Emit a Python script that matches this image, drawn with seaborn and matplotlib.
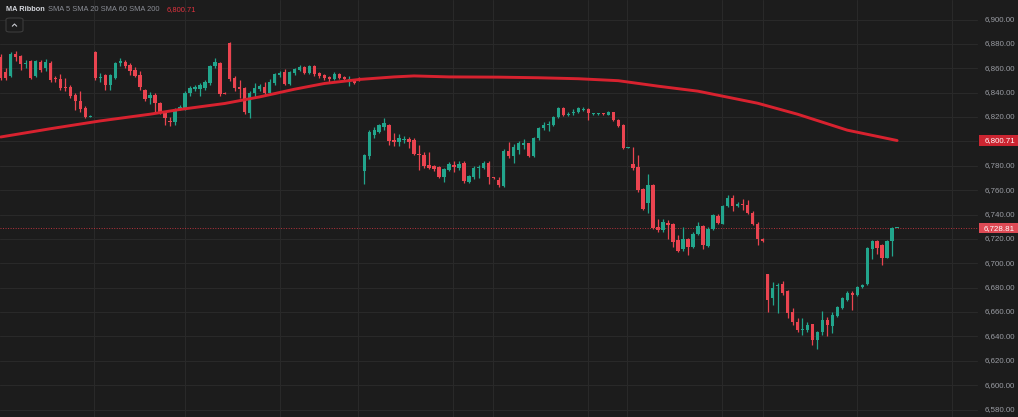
import numpy as np
import pandas as pd
import matplotlib
matplotlib.use("Agg")
import matplotlib.pyplot as plt
import matplotlib.transforms as mtrans
from matplotlib.patches import Rectangle, FancyBboxPatch
from matplotlib.lines import Line2D
import seaborn as sns

# ---------------- data ----------------
opens = [6869.3, 6857.0, 6853.7, 6872.0, 6870.1, 6863.1, 6865.8, 6853.7, 6865.2, 6859.8,
         6864.7, 6851.5, 6850.8, 6844.7, 6844.7, 6837.9, 6833.2, 6827.5, 6820.4, 6873.4,
         6851.6, 6854.3, 6846.1, 6852.1, 6863.9, 6865.2, 6862.5, 6858.4, 6854.3, 6842.0,
         6835.2, 6837.9, 6831.1, 6823.7, 6817.0, 6815.5, 6826.4, 6826.4, 6839.3, 6842.8,
         6842.8, 6843.4, 6847.5, 6861.9, 6864.4, 6839.6, 6880.8, 6851.6, 6844.7, 6843.4,
         6823.4, 6839.3, 6842.6, 6844.7, 6839.3, 6847.5, 6854.3, 6857.0, 6846.9, 6855.7,
         6858.4, 6861.1, 6856.2, 6861.7, 6856.2, 6854.3, 6852.9, 6850.8, 6854.9, 6852.9,
         6850.2, 6850.8, 6852.1, 6775.5, 6788.1, 6805.1, 6807.8, 6811.9, 6813.3, 6801.0,
         6799.1, 6800.8, 6801.8, 6801.0, 6790.0, 6789.0, 6780.4, 6779.6, 6779.1, 6770.9,
         6776.3, 6780.4, 6778.5, 6782.3, 6766.8, 6770.4, 6777.8, 6778.5, 6782.3, 6770.3,
         6768.7, 6763.2, 6792.2, 6787.8, 6792.8, 6797.4, 6798.3, 6788.0, 6802.4, 6810.6,
         6813.2, 6813.3, 6820.1, 6827.0, 6821.8, 6823.6, 6823.7, 6825.8, 6826.4, 6822.2,
         6822.2, 6822.9, 6822.0, 6823.7, 6817.4, 6813.8, 6794.5, 6781.8, 6779.0, 6760.8,
         6749.8, 6764.0, 6729.8, 6727.1, 6733.4, 6731.8, 6718.9, 6711.5, 6720.3, 6713.4,
         6724.4, 6730.6, 6714.2, 6728.5, 6738.6, 6732.6, 6747.1, 6753.6, 6747.1, 6749.0,
         6748.2, 6741.6, 6732.6, 6719.8, 6690.8, 6671.1, 6681.1, 6682.8, 6677.0, 6659.6,
         6651.4, 6645.3, 6645.1, 6649.8, 6636.9, 6643.2, 6653.3, 6648.6, 6656.8, 6663.4,
         6669.7, 6676.0, 6673.8, 6680.6, 6682.6, 6712.0, 6718.1, 6714.8, 6704.4, 6718.1,
         6728.81]
highs = [6871.5, 6860.0, 6873.0, 6874.0, 6871.0, 6867.0, 6867.0, 6867.0, 6866.5, 6867.5,
         6866.0, 6853.5, 6855.0, 6852.0, 6846.0, 6839.5, 6841.0, 6829.0, 6821.5, 6874.0,
         6856.5, 6855.5, 6855.5, 6865.0, 6868.5, 6867.0, 6864.0, 6861.0, 6857.5, 6843.0,
         6840.5, 6839.5, 6832.5, 6825.0, 6820.0, 6827.5, 6829.5, 6841.0, 6845.5, 6846.0,
         6847.5, 6850.0, 6863.0, 6868.5, 6865.5, 6840.5, 6881.5, 6853.5, 6850.5, 6845.0,
         6841.0, 6847.5, 6847.0, 6848.5, 6851.5, 6856.5, 6857.5, 6859.0, 6858.0, 6860.5,
         6862.5, 6862.0, 6862.5, 6862.5, 6857.0, 6855.6, 6854.0, 6857.0, 6856.2, 6854.0,
         6853.5, 6851.5, 6853.0, 6790.0, 6809.0, 6811.9, 6814.5, 6818.8, 6814.5, 6806.5,
         6805.7, 6804.5, 6803.5, 6802.4, 6796.9, 6791.4, 6791.4, 6781.0, 6780.0, 6778.5,
         6783.0, 6784.1, 6784.1, 6783.5, 6772.5, 6779.5, 6780.4, 6784.0, 6784.0, 6771.0,
         6770.4, 6793.5, 6799.6, 6797.5, 6800.0, 6802.0, 6799.0, 6803.5, 6811.5, 6816.0,
         6816.5, 6821.0, 6828.0, 6828.0, 6824.0, 6826.4, 6828.5, 6827.8, 6827.5, 6823.5,
         6823.5, 6823.5, 6825.0, 6824.5, 6818.5, 6814.5, 6795.2, 6795.5, 6788.7, 6761.5,
         6773.6, 6765.0, 6736.5, 6736.5, 6735.2, 6733.0, 6723.0, 6729.8, 6721.0, 6725.5,
         6733.9, 6731.5, 6729.5, 6740.7, 6740.7, 6748.0, 6755.7, 6755.7, 6750.0, 6752.5,
         6751.9, 6742.5, 6733.5, 6720.5, 6691.5, 6684.5, 6684.0, 6685.3, 6678.0, 6662.9,
         6654.7, 6654.7, 6652.0, 6650.5, 6644.5, 6660.5, 6656.1, 6660.0, 6665.0, 6672.0,
         6677.0, 6677.5, 6681.5, 6683.0, 6713.5, 6719.0, 6718.8, 6715.5, 6718.8, 6730.0,
         6729.0]
lows = [6850.5, 6850.5, 6852.5, 6866.0, 6858.4, 6860.0, 6851.0, 6852.5, 6857.0, 6857.5,
        6849.0, 6848.5, 6842.0, 6841.0, 6836.0, 6825.6, 6824.5, 6819.0, 6819.8, 6850.5,
        6848.5, 6842.5, 6842.5, 6851.0, 6861.5, 6860.0, 6854.3, 6853.0, 6842.0, 6833.5,
        6831.0, 6824.5, 6822.5, 6813.8, 6813.0, 6813.8, 6825.5, 6825.5, 6837.5, 6841.5,
        6837.5, 6842.5, 6846.5, 6860.0, 6837.5, 6838.5, 6849.5, 6841.5, 6835.5, 6822.5,
        6818.8, 6836.5, 6841.0, 6838.0, 6838.5, 6846.5, 6853.0, 6846.0, 6846.0, 6854.3,
        6857.5, 6855.5, 6855.5, 6854.0, 6851.6, 6850.2, 6847.5, 6850.2, 6850.8, 6849.5,
        6845.3, 6846.9, 6849.5, 6765.4, 6785.3, 6802.4, 6806.5, 6809.0, 6796.8, 6796.0,
        6796.0, 6798.5, 6794.5, 6788.5, 6776.3, 6778.5, 6777.2, 6776.0, 6770.0, 6766.8,
        6775.5, 6774.7, 6776.5, 6765.8, 6765.8, 6769.5, 6769.8, 6777.5, 6765.0, 6769.0,
        6762.6, 6762.5, 6786.0, 6782.5, 6789.5, 6794.0, 6787.0, 6787.0, 6801.5, 6809.5,
        6808.5, 6812.5, 6819.0, 6820.5, 6820.7, 6821.5, 6822.9, 6825.0, 6817.4, 6821.8,
        6821.8, 6821.8, 6821.5, 6816.5, 6811.5, 6793.5, 6794.2, 6776.3, 6758.5, 6744.0,
        6741.6, 6728.5, 6725.5, 6725.5, 6720.3, 6713.4, 6709.0, 6709.9, 6706.6, 6712.5,
        6723.0, 6711.5, 6713.4, 6727.1, 6732.6, 6731.8, 6746.3, 6742.5, 6746.0, 6743.8,
        6740.7, 6731.0, 6714.8, 6717.5, 6660.0, 6665.7, 6658.8, 6673.6, 6654.8, 6649.0,
        6643.6, 6641.0, 6643.6, 6633.3, 6630.0, 6641.5, 6640.3, 6642.5, 6656.0, 6662.5,
        6669.0, 6661.5, 6673.0, 6680.0, 6682.0, 6703.3, 6707.4, 6698.4, 6704.0, 6706.0,
        6728.6]
closes = [6852.1, 6852.0, 6872.1, 6869.3, 6863.1, 6864.4, 6852.1, 6865.8, 6858.4, 6865.2,
          6850.2, 6851.0, 6844.2, 6843.4, 6837.1, 6833.2, 6826.4, 6820.1, 6820.9, 6852.1,
          6852.9, 6846.1, 6854.3, 6863.9, 6865.8, 6861.9, 6857.6, 6853.5, 6844.7, 6834.6,
          6837.9, 6831.1, 6823.7, 6818.8, 6816.0, 6826.4, 6828.3, 6840.1, 6843.4, 6844.7,
          6846.1, 6848.8, 6861.9, 6865.2, 6838.5, 6839.2, 6850.8, 6844.2, 6842.8, 6823.7,
          6839.8, 6844.2, 6845.3, 6839.3, 6848.8, 6855.1, 6856.2, 6846.9, 6857.0, 6859.0,
          6861.1, 6856.2, 6861.7, 6854.9, 6853.7, 6852.4, 6850.8, 6855.1, 6852.4, 6850.8,
          6851.0, 6848.3, 6850.2, 6788.7, 6807.8, 6809.2, 6813.3, 6814.7, 6800.1, 6799.1,
          6802.4, 6801.2, 6799.1, 6789.5, 6788.7, 6779.4, 6778.2, 6777.2, 6770.9, 6777.2,
          6781.8, 6779.1, 6781.8, 6767.6, 6771.4, 6778.5, 6778.2, 6782.3, 6770.4, 6769.8,
          6764.0, 6792.2, 6787.8, 6795.0, 6798.3, 6798.7, 6788.0, 6802.8, 6810.6, 6813.8,
          6813.8, 6820.1, 6827.0, 6821.5, 6822.5, 6824.2, 6827.0, 6826.4, 6822.9, 6822.8,
          6822.8, 6822.2, 6824.2, 6817.4, 6812.7, 6794.2, 6794.9, 6778.2, 6759.9, 6744.9,
          6764.0, 6729.0, 6727.1, 6733.9, 6731.2, 6717.5, 6709.9, 6720.3, 6713.4, 6724.4,
          6730.6, 6714.8, 6728.5, 6739.4, 6733.4, 6747.1, 6753.6, 6747.1, 6749.0, 6747.6,
          6741.6, 6731.8, 6719.8, 6718.1, 6669.7, 6679.8, 6682.5, 6676.0, 6658.8, 6651.4,
          6645.1, 6645.8, 6649.2, 6636.9, 6643.7, 6653.3, 6649.2, 6657.4, 6664.0, 6671.1,
          6676.0, 6673.8, 6680.6, 6682.3, 6712.6, 6718.1, 6712.6, 6704.4, 6718.1, 6728.81,
          6728.81]

sma_idx = [0, 10, 20, 30, 36, 45, 52, 59, 65, 72, 79, 83, 90, 100, 108, 116, 124, 132,
           140, 144, 152, 160, 170, 180]
sma_val = [6803.6, 6810.4, 6816.8, 6822.3, 6826.2, 6831.1, 6836.5, 6842.8, 6847.5, 6850.8,
           6852.9, 6853.7, 6852.9, 6852.7, 6852.2, 6851.4, 6849.8, 6845.3, 6841.2, 6837.9,
           6831.3, 6822.3, 6809.2, 6800.71]

price_ticks = [6580, 6600, 6620, 6640, 6660, 6680, 6700, 6720, 6740, 6760, 6780,
               6800, 6820, 6840, 6860, 6880, 6900]
last_price = 6728.81
sma_last = 6800.71
legend_title = "MA Ribbon"
legend_series = "SMA 5 SMA 20 SMA 60 SMA 200"
vgrid_idx = [18.7, 37, 56, 71.7, 90.8, 98.8, 118, 125.8, 144.8, 153, 172, 191]

# ---------------- style ----------------
sns.set_theme(style="dark")
plt.rcParams['font.family'] = ['Liberation Sans', 'DejaVu Sans']

BG = '#1c1c1c'
GRID = '#292929'
UP = '#22a58c'
DOWN = '#ea4450'
SMA_C = '#d8222f'
TXT = '#9a9ca3'

W, H = 1018, 417
fig = plt.figure(figsize=(W / 100, H / 100), dpi=100, facecolor=BG)
ax = fig.add_axes([0, 0, 1, 1])
ax.set_facecolor(BG)

PX = 4.98       # pixels per candle
X0 = 0.7        # pixel of first candle
Y900 = 19.5     # pixel row of 6900
SC = 1.21875    # pixels per price unit
ax.set_xlim(-X0 / PX, (W - X0) / PX)
ax.set_ylim(6900 - (H - Y900) / SC, 6900 + Y900 / SC)
for s in ax.spines.values():
    s.set_visible(False)
ax.set_xticks([])
ax.set_yticks([])
ax.grid(False)

plot_right = 977 / W
for t in price_ticks:
    ax.axhline(t, xmin=0, xmax=plot_right, color=GRID, lw=0.8, zorder=0)
for v in vgrid_idx:
    ax.axvline(v, color=GRID, lw=0.8, zorder=0)

# ---------------- candles ----------------
df = pd.DataFrame({"o": opens, "h": highs, "l": lows, "c": closes})
df["i"] = np.arange(len(df))
df["up"] = df["c"] >= df["o"]
cols = np.where(df["up"], UP, DOWN)
ax.vlines(df["i"], df["l"], df["h"], colors=cols, lw=0.9, zorder=2)
body_h = np.maximum((df["c"] - df["o"]).abs(), 0.8)
body_b = np.minimum(df["o"], df["c"])
ax.bar(df["i"], body_h, bottom=body_b, width=0.68, color=cols, lw=0, zorder=3)

# ---------------- SMA 200 ----------------
sma_df = pd.DataFrame({"i": sma_idx, "v": sma_val})
sns.lineplot(data=sma_df, x="i", y="v", ax=ax, color=SMA_C, lw=2.1, zorder=4)
ax.set_xlabel("")
ax.set_ylabel("")

# last price dotted line
ax.axhline(last_price, xmin=0, xmax=plot_right, color='#b8343e', lw=0.7,
           linestyle=(0, (1, 1.6)), zorder=1)

# ---------------- price scale ----------------
tr = mtrans.blended_transform_factory(ax.transAxes, ax.transData)
lab_x = 1015 / W
for t in price_ticks:
    if t == 6800:
        continue
    ax.text(lab_x, t, f"{t:,.2f}", transform=tr, ha='right', va='center',
            fontsize=5.7, color=TXT, zorder=5)

box_h = 10.5 / SC
for val, fc in [(sma_last, '#cc2531'), (last_price, '#de4a55')]:
    ax.add_patch(Rectangle((979 / W, val - box_h / 2), 1 - 979 / W, box_h,
                           transform=tr, facecolor=fc, edgecolor='none', zorder=6,
                           clip_on=False))
    ax.text(lab_x, val, f"{val:,.2f}", transform=tr, ha='right', va='center',
            fontsize=5.7, color='white', zorder=7)

# ---------------- legend ----------------
ty = 1 - 9.5 / H
fig.text(6 / W, ty, legend_title, fontsize=5.3, color='#d6d8de', fontweight='bold',
         ha='left', va='center')
fig.text(48 / W, ty, legend_series, fontsize=5.4, color='#8a8d95', ha='left', va='center')
fig.text(167 / W, ty, f"{sma_last:,.2f}", fontsize=5.4, color='#e0323e', ha='left', va='center')

btn = FancyBboxPatch((6 / W, 1 - 32 / H), 17 / W, 14 / H,
                     boxstyle="round,pad=0,rounding_size=0.004",
                     transform=fig.transFigure, facecolor=BG, edgecolor='#3c3c3c', lw=0.8)
fig.add_artist(btn)
fig.add_artist(Line2D([12.3 / W, 14.5 / W, 16.7 / W], [1 - 26.2 / H, 1 - 24 / H, 1 - 26.2 / H],
                      transform=fig.transFigure, color='#c8cad0', lw=0.8))

fig.savefig("out.png", dpi=100, facecolor=BG)
